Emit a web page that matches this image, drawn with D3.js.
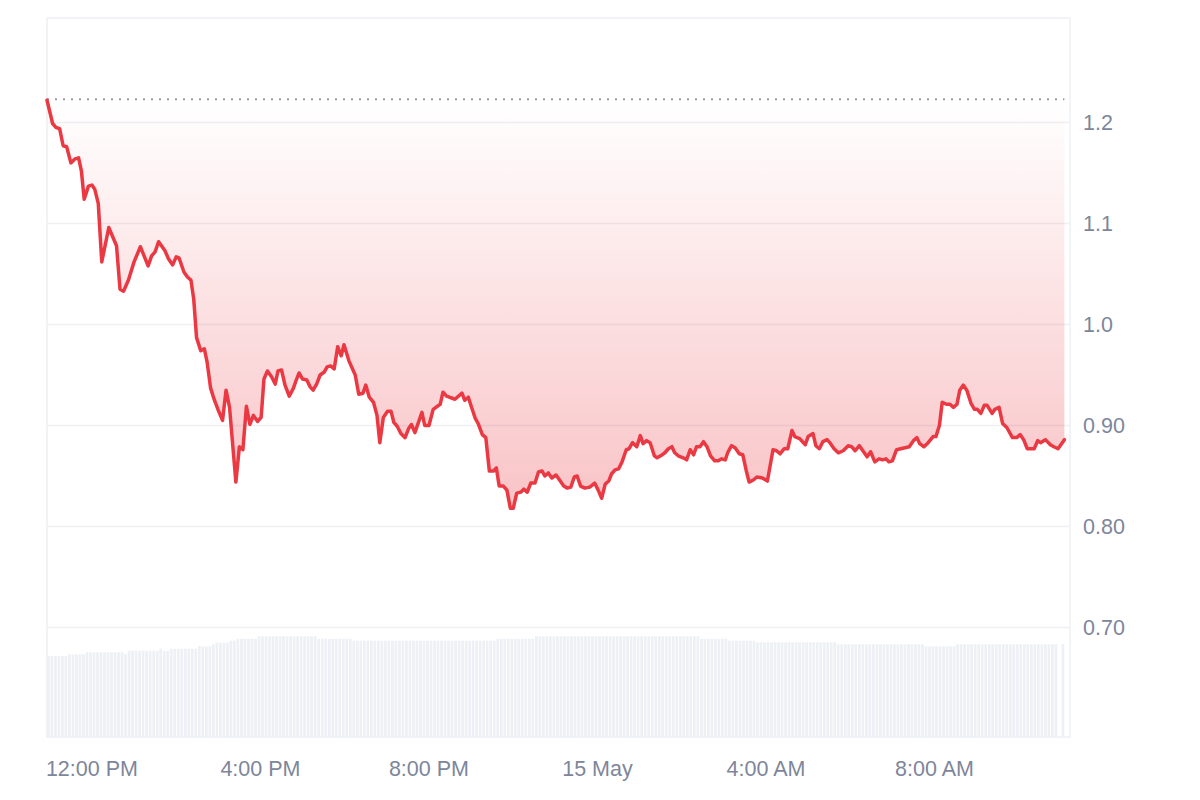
<!DOCTYPE html>
<html>
<head>
<meta charset="utf-8">
<script src="https://cdn.jsdelivr.net/npm/d3@7"></script>
<style>
  body { margin: 0; background: #fff; }
  text { font-family: "Liberation Sans", Arial, sans-serif; }
</style>
</head>
<body>
<svg id="chart" width="1200" height="800"></svg>
<script>
// price series: minutes after the first sample, and price in USD
var minutes = [
  0,8,13,18,23,28,34,40,45,49,
  53,59,64,68,73,78,88,99,104,109,
  116,124,133,144,149,154,159,168,173,179,
  184,188,195,200,205,209,213,219,224,228,
  233,238,244,250,255,260,269,274,279,284,
  289,294,300,305,309,314,320,325,329,334,
  339,345,351,355,359,364,370,375,379,384,
  389,395,399,404,409,414,419,423,430,439,
  444,450,454,459,465,470,474,479,485,490,
  494,499,504,510,515,519,524,534,538,544,
  550,560,564,569,581,591,595,600,610,614,
  620,625,630,636,640,644,650,655,660,664,
  669,675,679,684,689,695,700,705,709,714,
  719,725,731,736,741,746,751,755,760,766,
  773,780,785,790,795,800,804,809,814,819,
  825,829,834,840,845,849,854,859,865,869,
  874,880,885,890,894,899,906,911,916,921,
  925,930,935,940,945,951,956,961,966,970,
  975,980,986,991,996,1000,1006,1011,1019,1026,
  1034,1039,1044,1050,1055,1061,1065,1072,1080,1084,
  1091,1095,1100,1105,1111,1115,1121,1127,1134,1141,
  1146,1151,1157,1163,1168,1173,1179,1185,1190,1195,
  1199,1204,1210,1216,1222,1228,1234,1239,1243,1249,
  1255,1262,1266,1271,1275,1281,1286,1291,1296,1300,
  1305,1310,1316,1321,1325,1330,1335,1339,1346,1350,
  1356,1361,1367,1375,1381,1386,1391,1396,1401,1406,
  1411,1415,1422,1429,1434,1440,1449
];
var prices = [
  1.222,1.199,1.195,1.194,1.177,1.176,1.160,1.164,1.165,1.152,
  1.124,1.137,1.138,1.134,1.120,1.062,1.096,1.078,1.035,1.033,
  1.044,1.062,1.077,1.058,1.068,1.072,1.082,1.073,1.065,1.059,
  1.067,1.066,1.052,1.047,1.044,1.025,0.987,0.974,0.976,0.963,
  0.937,0.926,0.915,0.905,0.935,0.918,0.844,0.879,0.876,0.919,
  0.901,0.910,0.904,0.908,0.946,0.954,0.948,0.941,0.954,0.955,
  0.940,0.929,0.937,0.945,0.952,0.946,0.945,0.938,0.935,0.941,
  0.950,0.953,0.958,0.959,0.956,0.978,0.969,0.980,0.964,0.950,
  0.931,0.932,0.940,0.928,0.923,0.910,0.883,0.908,0.914,0.914,
  0.903,0.899,0.892,0.888,0.897,0.901,0.893,0.913,0.900,0.900,
  0.916,0.921,0.933,0.929,0.926,0.932,0.925,0.928,0.907,0.902,
  0.891,0.888,0.855,0.855,0.858,0.840,0.840,0.836,0.818,0.818,
  0.833,0.834,0.837,0.834,0.843,0.843,0.854,0.855,0.850,0.853,
  0.848,0.851,0.845,0.840,0.838,0.839,0.849,0.850,0.840,0.838,
  0.839,0.843,0.836,0.828,0.842,0.845,0.852,0.856,0.857,0.864,
  0.876,0.877,0.883,0.879,0.890,0.882,0.885,0.883,0.870,0.868,
  0.870,0.873,0.877,0.879,0.873,0.870,0.868,0.866,0.876,0.871,
  0.879,0.879,0.884,0.879,0.870,0.865,0.865,0.867,0.866,0.874,
  0.880,0.878,0.872,0.871,0.855,0.844,0.846,0.849,0.848,0.845,
  0.876,0.875,0.872,0.877,0.877,0.895,0.889,0.887,0.881,0.889,
  0.892,0.880,0.877,0.884,0.886,0.883,0.877,0.873,0.875,0.880,
  0.879,0.875,0.880,0.874,0.869,0.874,0.864,0.867,0.866,0.867,
  0.864,0.865,0.876,0.877,0.878,0.879,0.885,0.888,0.882,0.879,
  0.883,0.889,0.889,0.900,0.923,0.921,0.921,0.918,0.921,0.935,
  0.940,0.935,0.922,0.916,0.916,0.912,0.920,0.920,0.912,0.916,
  0.918,0.902,0.898,0.888,0.888,0.891,0.886,0.877,0.877,0.877,
  0.885,0.883,0.886,0.881,0.879,0.877,0.886
];

// volume, 5 minute bars, stored as runs of equal bars (count, relative volume)
var volumeRunCounts = [6,5,11,1,9,1,2,8,4,1,4,2,6,17,10,41,11,47,8,8,23,25,9,29,1,1];
var volumeRunValues = [81,82.7,84.7,82.7,86.3,88.3,86.3,88.3,90.7,92.5,94.3,96.3,98.3,100.7,98.3,96.3,98.3,100.7,98.3,96.3,94.7,92.7,90.7,92.7,0,93];

var priceTicks = [0.7, 0.8, 0.9, 1.0, 1.1, 1.2];
var priceTickLabels = ["0.70", "0.80", "0.90", "1.0", "1.1", "1.2"];

var startTime = Date.UTC(2024, 4, 14, 10, 56);
var endMinutes = 1457;
var barMinutes = 5;

var plot = {left: 47, right: 1070, top: 18, bottom: 737};

drawChart();

function drawChart() {
	var svg = d3.select("#chart");

	var data = [];
	for (var i = 0; i < Math.min(minutes.length, prices.length); i++) {
		data.push({date: new Date(startTime + minutes[i] * 60000), price: prices[i]});
	}

	var volumes = [];
	var n = 0;
	for (var r = 0; r < volumeRunCounts.length; r++) {
		for (var k = 0; k < volumeRunCounts[r]; k++) {
			volumes.push({date: new Date(startTime + n * barMinutes * 60000), value: volumeRunValues[r]});
			n++;
		}
	}

	var x = d3.scaleUtc()
		.domain([new Date(startTime), new Date(startTime + endMinutes * 60000)])
		.range([plot.left, plot.right]);

	var y = d3.scaleLinear()
		.domain([0.7, 1.2])
		.range([627.5, 122.5]);

	var yVol = d3.scaleLinear()
		.domain([0, d3.max(volumeRunValues)])
		.range([plot.bottom, 636.3]);

	// grid lines
	svg.append("g").selectAll("line")
		.data(priceTicks)
		.enter()
		.append("line")
		.attr("x1", plot.left)
		.attr("x2", plot.right)
		.attr("y1", function(d) { return y(d); })
		.attr("y2", function(d) { return y(d); })
		.style("stroke", "#eef0f3")
		.style("stroke-width", 1.5);

	// frame
	svg.append("rect")
		.attr("x", plot.left)
		.attr("y", plot.top)
		.attr("width", plot.right - plot.left)
		.attr("height", plot.bottom - plot.top)
		.style("fill", "none")
		.style("stroke", "#eef0f3")
		.style("stroke-width", 1.5);

	// volume bars
	var step = x(new Date(startTime + barMinutes * 60000)) - x(new Date(startTime));
	svg.append("g").selectAll("rect")
		.data(volumes.filter(function(d) { return d.value > 0; }))
		.enter()
		.append("rect")
		.attr("x", function(d) { return x(d.date); })
		.attr("width", step - 0.8)
		.attr("y", function(d) { return yVol(d.value); })
		.attr("height", function(d) { return plot.bottom - yVol(d.value); })
		.style("fill", "#edf0f4");

	var baseline = prices[0];
	var minPrice = d3.min(prices);

	var defs = svg.append("defs");
	var grad = defs.append("linearGradient")
		.attr("id", "fillGrad")
		.attr("gradientUnits", "userSpaceOnUse")
		.attr("x1", 0).attr("x2", 0)
		.attr("y1", y(baseline))
		.attr("y2", y(minPrice));
	grad.append("stop").attr("offset", "0%").attr("stop-color", "#ea3943").attr("stop-opacity", 0.0);
	grad.append("stop").attr("offset", "100%").attr("stop-color", "#ea3943").attr("stop-opacity", 0.3);

	var area = d3.area()
		.x(function(d) { return x(d.date); })
		.y0(y(baseline))
		.y1(function(d) { return y(d.price); });

	svg.append("path")
		.datum(data)
		.attr("d", area)
		.style("fill", "url(#fillGrad)");

	// opening price reference
	svg.append("line")
		.attr("x1", plot.left)
		.attr("x2", x(data[data.length - 1].date))
		.attr("y1", y(baseline) - 1)
		.attr("y2", y(baseline) - 1)
		.style("stroke", "#9a9ca3")
		.style("stroke-width", 2)
		.style("stroke-dasharray", "2,6");

	var line = d3.line()
		.x(function(d) { return x(d.date); })
		.y(function(d) { return y(d.price); });

	svg.append("path")
		.datum(data)
		.attr("d", line)
		.style("fill", "none")
		.style("stroke", "#ea3943")
		.style("stroke-width", 3.5)
		.style("stroke-linejoin", "round")
		.style("stroke-linecap", "round");

	// price labels on the right
	svg.append("g").selectAll("text")
		.data(priceTicks)
		.enter()
		.append("text")
		.attr("x", 1083)
		.attr("y", function(d) { return y(d); })
		.attr("dy", "0.36em")
		.style("font-size", "21.5px")
		.style("fill", "#7d869a")
		.text(function(d, i) { return priceTickLabels[i]; });

	// time labels
	var fmtDay = d3.utcFormat("%-d %b");
	var fmtHour = d3.utcFormat("%-I:%M %p");
	svg.append("g").selectAll("text")
		.data(x.ticks(d3.utcHour.every(4)))
		.enter()
		.append("text")
		.attr("x", function(d) { return x(d); })
		.attr("y", 776)
		.attr("text-anchor", "middle")
		.style("font-size", "21.5px")
		.style("fill", "#7d869a")
		.text(function(d) { return d.getUTCHours() === 0 ? fmtDay(d) : fmtHour(d); });
}
</script>
</body>
</html>
